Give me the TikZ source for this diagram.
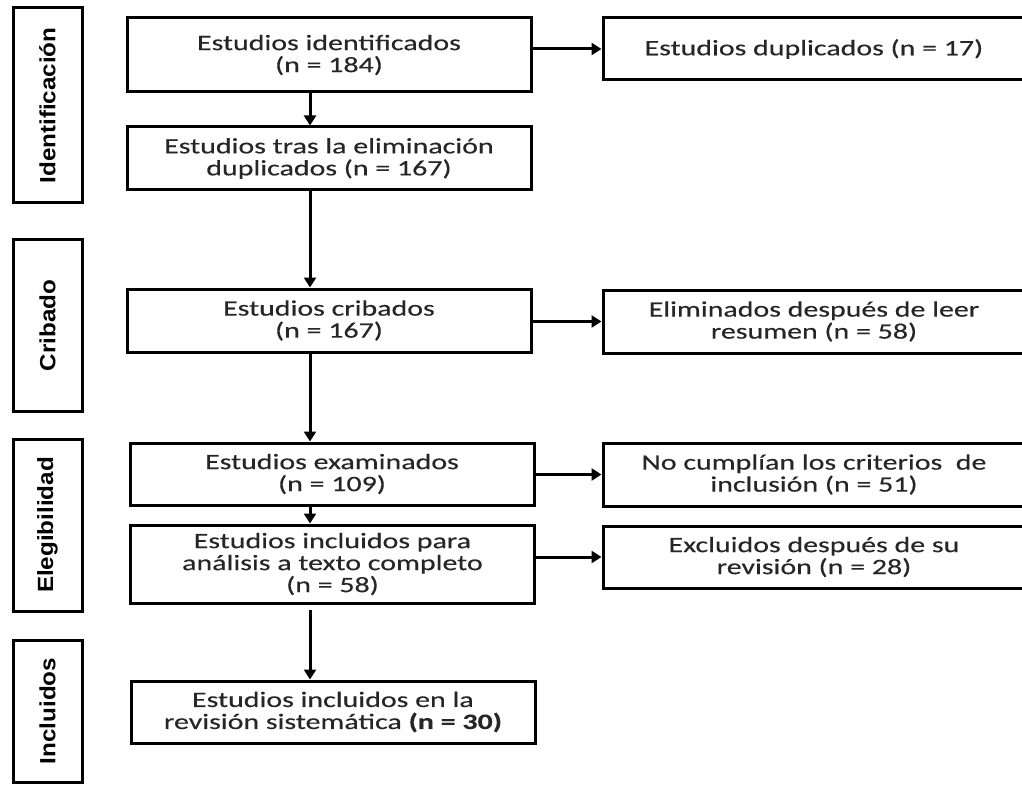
\documentclass[tikz,border=0pt]{standalone}
\usepackage{fontspec}
\setmainfont{Carlito}[FakeStretch=1.36,FakeBold=0.3]
\newfontfamily\labelfont{Liberation Sans}[FakeStretch=1.1]
\usetikzlibrary{arrows.meta,calc}
\definecolor{textgray}{RGB}{38,38,38}
\begin{document}
\begin{tikzpicture}[x=1pt,y=-1pt,
  box/.style={draw=black, line width=3pt, rectangle, inner sep=0pt,
    align=center, text=textgray, font=\fontsize{22}{22}\selectfont},
  mainbox/.style={box, minimum width=404pt},
  sidebox/.style={box, minimum width=422pt},
  stagebox/.style={draw=black, line width=3pt, rectangle, inner sep=0pt,
    minimum width=69pt},
  stagetext/.style={rotate=90, font=\labelfont\bfseries\fontsize{22}{24}\selectfont, inner sep=0pt},
  arrow/.style={line width=3pt, -{Triangle[length=10pt,width=12pt]}}
]
\useasboundingbox (0,0) rectangle (1022,786);
\clip (0,0) rectangle (1022,786);

% stage labels
\node[stagebox, minimum height=195pt] (L1) at (47.5,105.5) {};
\node[stagetext] (T1) at (L1.center) {Identificación};
\node[stagebox, minimum height=171pt] (L2) at (47.5,325.5) {};
\node[stagetext] (T2) at (L2.center) {Cribado};
\node[stagebox, minimum height=172pt] (L3) at (47.5,525) {};
\node[stagetext] (T3) at (L3.center) {Elegibilidad};
\node[stagebox, minimum height=142pt] (L4) at (47.5,711) {};
\node[stagetext] (T4) at (L4.center) {Incluidos};

% main column
\node[mainbox, minimum height=74pt] (A1) at (329,55) {Estudios identificados\\(n = 184)};
\node[mainbox, minimum height=63pt] (A2) at (329,158.5) {Estudios tras la eliminación\\duplicados (n = 167)};
\node[mainbox, minimum height=63pt] (A3) at (329,320.5) {Estudios cribados\\(n = 167)};
\node[mainbox, minimum height=62pt] (A4) at (332,474) {Estudios examinados\\(n = 109)};
\node[mainbox, minimum height=78pt] (A5) at (332.5,564) {Estudios incluidos para\\análisis a texto completo\\(n = 58)};
\node[mainbox, minimum height=62pt] (A6) at (333,712) {Estudios incluidos en la\\revisión sistemática \textbf{(n = 30)}};

% side column
\node[sidebox, minimum height=62pt] (R1) at (814,49) {Estudios duplicados (n = 17)};
\node[sidebox, minimum height=63pt] (R2) at (814,321.5) {Eliminados después de leer\\resumen (n = 58)};
\node[sidebox, minimum height=63pt] (R3) at (814,474.5) {No cumplían los criterios\ \ de\\inclusión (n = 51)};
\node[sidebox, minimum height=62pt] (R4) at (814,557) {Excluidos después de su\\revisión (n = 28)};

% vertical arrows
\coordinate (ax) at (310,0);
\draw[arrow] (A1.south -| ax) -- (A2.north -| ax);
\draw[arrow] (A2.south -| ax) -- (A3.north -| ax);
\draw[arrow] (A3.south -| ax) -- (A4.north -| ax);
\draw[arrow] (A4.south -| ax) -- (A5.north -| ax);
\draw[arrow, shorten <=5pt] (A5.south -| ax) -- (A6.north -| ax);

% horizontal arrows
\draw[arrow] (A1.east |- R1.west) -- (R1.west);
\draw[arrow] (A3.east |- R2.west) -- (R2.west);
\draw[arrow] (A4.east |- R3.west) -- (R3.west);
\draw[arrow] (A5.east |- R4.west) -- (R4.west);
\end{tikzpicture}
\end{document}
